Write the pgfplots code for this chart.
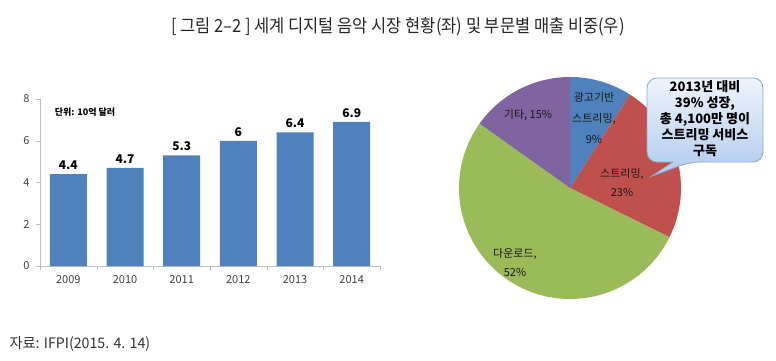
\documentclass[border=0pt]{standalone}
\usepackage{pgfplots}
\pgfplotsset{compat=1.18}
\usepackage{fontspec}
\setmainfont{Noto Sans CJK KR}
\definecolor{barblue}{HTML}{4F81BD}
\definecolor{piered}{HTML}{C0504D}
\definecolor{piegreen}{HTML}{9BBB59}
\definecolor{piepurple}{HTML}{8064A2}
\definecolor{axisgray}{HTML}{BFBFBF}
\definecolor{ticktext}{HTML}{404040}
\definecolor{calltop}{HTML}{EEF4FB}
\definecolor{callbot}{HTML}{AFCBEE}
\definecolor{callborder}{HTML}{8DA9CF}
\begin{document}
\begin{tikzpicture}
\path[use as bounding box] (0pt,0pt) rectangle (776pt,-361pt);
% title
\node[text=black!85] at (398pt,-27pt) {\scalebox{0.915}[1]{\fontsize{18}{20}\selectfont [ 그림 2–2 ] 세계 디지털 음악 시장 현황(좌) 및 부문별 매출 비중(우)}};
% source
\node[anchor=west, text=black!80] at (6pt,-344pt) {\scalebox{0.98}[1]{\fontsize{14.5}{16}\selectfont 자료: IFPI(2015. 4. 14)}};

% bar chart
\begin{axis}[
  at={(40pt,-266pt)}, anchor=south west,
  scale only axis, width=340pt, height=167pt,
  xmin=-0.5, xmax=5.5, ymin=0, ymax=8,
  axis lines*=left,
  axis line style={draw=axisgray},
  tick style={draw=axisgray},
  tick align=outside,
  major tick length=4pt,
  ytick={0,2,4,6,8},
  xtick={-0.5,0.5,1.5,2.5,3.5,4.5,5.5},
  xticklabels={},
  extra x ticks={0,1,2,3,4,5},
  extra x tick labels={2009,2010,2011,2012,2013,2014},
  extra x tick style={major tick length=0pt},
  ticklabel style={font=\fontsize{11}{13}\selectfont, text=ticktext},
  xticklabel style={yshift=-6pt},
  yticklabel style={xshift=-3pt},
  /pgf/number format/assume math mode=true,
  ybar, bar width=37pt,
  nodes near coords,
  nodes near coords style={font=\bfseries\fontsize{12}{14}\selectfont, text=black, anchor=south, yshift=1pt},
  clip=false,
]
\addplot[fill=barblue, draw=none] coordinates {(0,4.4) (1,4.7) (2,5.3) (3,6) (4,6.4) (5,6.9)};
\end{axis}
\node[font=\bfseries\fontsize{9}{11}\selectfont] at (85pt,-112pt) {단위: 10억 달러};

% pie chart
\pgfmathsetmacro\aA{90}
\pgfmathsetmacro\aB{90-(9/99)*360}
\pgfmathsetmacro\aC{\aB-(23/99)*360}
\pgfmathsetmacro\aD{\aC-(52/99)*360}
\pgfmathsetmacro\aE{\aD-(15/99)*360}
\begin{axis}[
  at={(570pt,-188pt)}, anchor=center,
  scale only axis, width=222pt, height=222pt,
  xmin=-1, xmax=1, ymin=-1, ymax=1,
  hide axis, clip=false,
]
\fill[barblue] (axis cs:0,0) -- ++(\aA:111pt) arc[start angle=\aA, end angle=\aB, radius=111pt] -- cycle;
\fill[piered] (axis cs:0,0) -- ++(\aB:111pt) arc[start angle=\aB, end angle=\aC, radius=111pt] -- cycle;
\fill[piegreen] (axis cs:0,0) -- ++(\aC:111pt) arc[start angle=\aC, end angle=\aD, radius=111pt] -- cycle;
\fill[piepurple] (axis cs:0,0) -- ++(\aD:111pt) arc[start angle=\aD, end angle=\aE, radius=111pt] -- cycle;
\end{axis}
\node[align=center, text=black!90, font=\fontsize{11}{21}\selectfont] at (594pt,-118pt) {광고기반\\스트리밍,\\9\%};
\node[text=black!90, font=\fontsize{11}{13}\selectfont] at (528pt,-115pt) {기타, 15\%};
\node[align=center, text=black!90, font=\fontsize{11}{19}\selectfont] at (622pt,-183pt) {스트리밍,\\23\%};
\node[align=center, text=black!90, font=\fontsize{11}{19}\selectfont] at (515pt,-263pt) {다운로드,\\52\%};

% callout
\draw[draw=callborder, line width=0.8pt, top color=calltop, bottom color=callbot]
  (647pt,-120pt) [rounded corners=10pt] -- (647pt,-78pt) -- (763pt,-78pt) -- (763pt,-162pt) -- (690pt,-162pt)
  [sharp corners] -- (652pt,-176pt) -- (673pt,-162pt)
  [rounded corners=10pt] -- (647pt,-162pt) -- cycle;
\node[align=center, font=\bfseries\fontsize{13}{16}\selectfont] at (705pt,-119pt) {2013년 대비\\39\% 성장,\\총 4,100만 명이\\스트리밍 서비스\\구독};
\end{tikzpicture}
\end{document}
